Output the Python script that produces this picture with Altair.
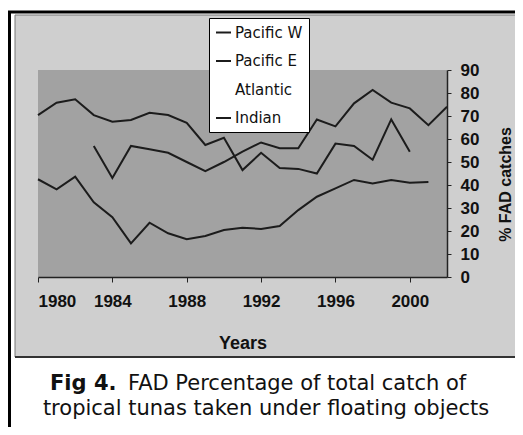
import altair as alt
import pandas as pd

# ---- data ----
series_names = ["Pacific W", "Pacific E", "Atlantic", "Indian"]

years_pacific_w = list(range(1980, 2001))
pacific_w = [70.4, 75.8, 77.3, 70.4, 67.5, 68.3, 71.4, 70.4, 67.0, 57.4, 60.5,
             46.5, 54.0, 47.4, 47.0, 45.0, 58.0, 57.0, 51.0, 68.5, 54.5]

years_pacific_e = list(range(1980, 2002))
pacific_e = [42.5, 38.1, 43.6, 32.5, 26.0, 14.6, 23.6, 19.0, 16.4, 17.8, 20.4,
             21.4, 20.9, 22.2, 29.1, 34.9, 38.5, 42.2, 40.7, 42.2, 41.0, 41.3]

years_indian = list(range(1983, 2003))
indian = [57.0, 43.0, 57.0, 55.5, 54.0, 50.0, 46.0, 50.0, 54.5, 58.5, 56.0,
          56.0, 68.5, 65.5, 75.5, 81.3, 75.8, 73.3, 66.0, 74.0]

x_tick_values = [1980, 1984, 1988, 1992, 1996, 2000]
y_tick_values = [0, 10, 20, 30, 40, 50, 60, 70, 80, 90]

caption_bold = "Fig 4."
caption_line1 = "FAD Percentage of total catch of"
caption_line2 = "tropical tunas taken under floating objects"

rows = []
for yrs, vals, name in [(years_pacific_w, pacific_w, "Pacific W"),
                        (years_pacific_e, pacific_e, "Pacific E"),
                        (years_indian, indian, "Indian")]:
    for y, v in zip(yrs, vals):
        rows.append({"Year": y, "Value": v, "Series": name})
df = pd.DataFrame(rows)

W, H = 409, 207
AXFONT = "Liberation Sans, Arial, sans-serif"
one = alt.Data(values=[{}])

# decorative frame / panel / plot background
outer = alt.Chart(one).mark_rect(fill="white", stroke="black", strokeWidth=3).encode(
    x=alt.value(-28.5), x2=alt.value(495), y=alt.value(-58), y2=alt.value(380))
panel = alt.Chart(one).mark_rect(fill="#cfcfcf", stroke="#777", strokeWidth=1).encode(
    x=alt.value(-23), x2=alt.value(495), y=alt.value(-55), y2=alt.value(287))
panel_bottom = alt.Chart(one).mark_rule(stroke="#333", strokeWidth=2).encode(
    x=alt.value(-23), x2=alt.value(495), y=alt.value(287))
plotbg = alt.Chart(one).mark_rect(fill="#a2a2a2").encode(
    x=alt.value(0), x2=alt.value(W), y=alt.value(0), y2=alt.value(H))

lines = alt.Chart(df).mark_line(strokeWidth=2).encode(
    x=alt.X("Year:Q",
            scale=alt.Scale(domain=[1980, 2002], nice=False, zero=False),
            axis=alt.Axis(values=x_tick_values, format="d", grid=False,
                          labelOverlap=False,
                          title="Years", titleFont=AXFONT, titleFontSize=18,
                          titleFontWeight="bold", titleColor="#111",
                          titleY=71, titleBaseline="alphabetic",
                          labelFont=AXFONT, labelFontSize=17, labelFontWeight="bold",
                          labelColor="#111", labelPadding=11,
                          tickSize=5, tickColor="#222", domainColor="#222",
                          domainWidth=1.5, zindex=1)),
    y=alt.Y("Value:Q",
            scale=alt.Scale(domain=[0, 90], nice=False),
            axis=alt.Axis(orient="right", values=y_tick_values, grid=False,
                          labelOverlap=False,
                          title="% FAD catches", titleFont=AXFONT,
                          titleFontSize=16, titleFontWeight="bold", titleColor="#111",
                          titleAngle=270, titleX=63, titleY=114,
                          titleBaseline="alphabetic", titleAlign="center",
                          labelFont=AXFONT, labelFontSize=17, labelFontWeight="bold",
                          labelColor="#111", labelPadding=9,
                          tickSize=4, tickColor="#222", domainColor="#222",
                          domainWidth=1.5, zindex=1)),
    color=alt.Color("Series:N",
                    scale=alt.Scale(domain=series_names,
                                    range=["#1c1c1c", "#1c1c1c", "#ffffff", "#1c1c1c"]),
                    legend=alt.Legend(title=None, orient="none", legendX=171, legendY=-52,
                                      fillColor="white", strokeColor="black",
                                      padding=6, rowPadding=11.5, symbolType="stroke",
                                      symbolSize=225, symbolStrokeWidth=2,
                                      labelFont="DejaVu Sans", labelFontSize=15,
                                      labelColor="#111", labelOffset=3, zindex=1)),
    detail="Series:N",
)

cap_bold = alt.Chart(one).mark_text(text=caption_bold, font="DejaVu Sans", fontSize=21,
                                    fontWeight="bold", align="left", color="#111").encode(
    x=alt.value(12), y=alt.value(314))
cap1 = alt.Chart(one).mark_text(text=caption_line1, font="DejaVu Sans", fontSize=21,
                                align="left", color="#111").encode(
    x=alt.value(90), y=alt.value(314))
cap2 = alt.Chart(one).mark_text(text=caption_line2, font="DejaVu Sans", fontSize=21,
                                align="center", color="#111").encode(
    x=alt.value(228), y=alt.value(339))

chart = alt.layer(outer, panel, panel_bottom, plotbg, lines, cap_bold, cap1, cap2).properties(
    width=W, height=H,
    autosize=alt.AutoSizeParams(type="none"),
    padding={"left": 30, "top": 62, "right": 68, "bottom": 150},
    background="white",
).configure_view(stroke="transparent")

chart.save("out.html", embed_options={"renderer": "svg", "actions": False})
